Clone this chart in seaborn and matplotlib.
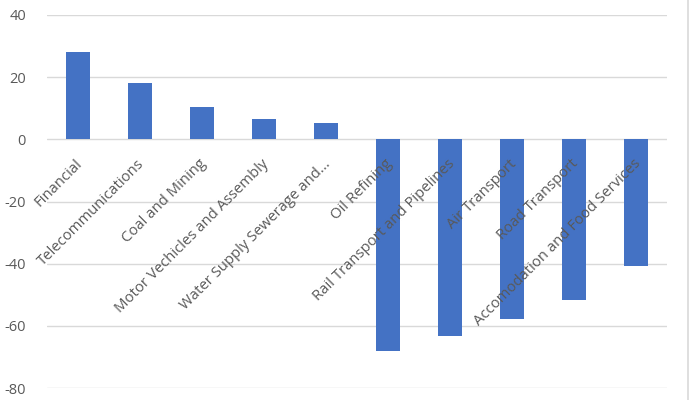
import matplotlib
matplotlib.use("Agg")
import matplotlib.pyplot as plt
import matplotlib.transforms as mtransforms
from matplotlib.lines import Line2D
import pandas as pd
import seaborn as sns

sectors = ["Financial", "Telecommunications", "Coal and Mining",
           "Motor Vechicles and Assembly", "Water Supply Sewerage and...",
           "Oil Refining", "Rail Transport and Pipelines", "Air Transport",
           "Road Transport", "Accomodation and Food Services"]
change = [28.2, 18.0, 10.4, 6.7, 5.3, -68.1, -63.2, -57.8, -51.7, -40.6]
y_ticks = [-80, -60, -40, -20, 0, 20, 40]

df = pd.DataFrame({"sector": sectors, "change": change})

sns.set_theme(style="white")
plt.rcParams["font.family"] = ["Open Sans", "DejaVu Sans"]

fig = plt.figure(figsize=(7, 4), dpi=100)
ax = fig.add_axes([0.067, 0.03, 0.886, 0.9325])

sns.barplot(data=df, x="sector", y="change", color="#4472C4",
            saturation=1, width=0.40, linewidth=0, ax=ax, zorder=2)

ax.set_ylim(-80, 40)
ax.set_yticks(y_ticks)
ax.set_yticklabels([str(t) for t in y_ticks], fontsize=10.5, color="#595959")
ax.tick_params(axis="y", length=0, pad=15)
ax.yaxis.grid(True, color="#D9D9D9", linewidth=1)
ax.set_axisbelow(True)
ax.set_xlim(-0.5, len(sectors) - 0.5)
ax.set_xticks([])
ax.set_xlabel("")
ax.set_ylabel("")
for s in ax.spines.values():
    s.set_visible(False)

# category labels sit just under the zero line, drawn over the bars
offset = mtransforms.offset_copy(ax.transData, fig=fig, x=-3, y=-17, units="dots")
for i, name in enumerate(sectors):
    ax.text(i, 0, name, transform=offset, rotation=45, rotation_mode="anchor",
            ha="right", va="top", fontsize=10.7, color="#595959",
            zorder=5, clip_on=False)

fig.add_artist(Line2D([688 / 700, 688 / 700], [0, 1], color="#D9D9D9",
                      linewidth=1.2, transform=fig.transFigure))

fig.savefig("out.png", dpi=100, facecolor="white")
